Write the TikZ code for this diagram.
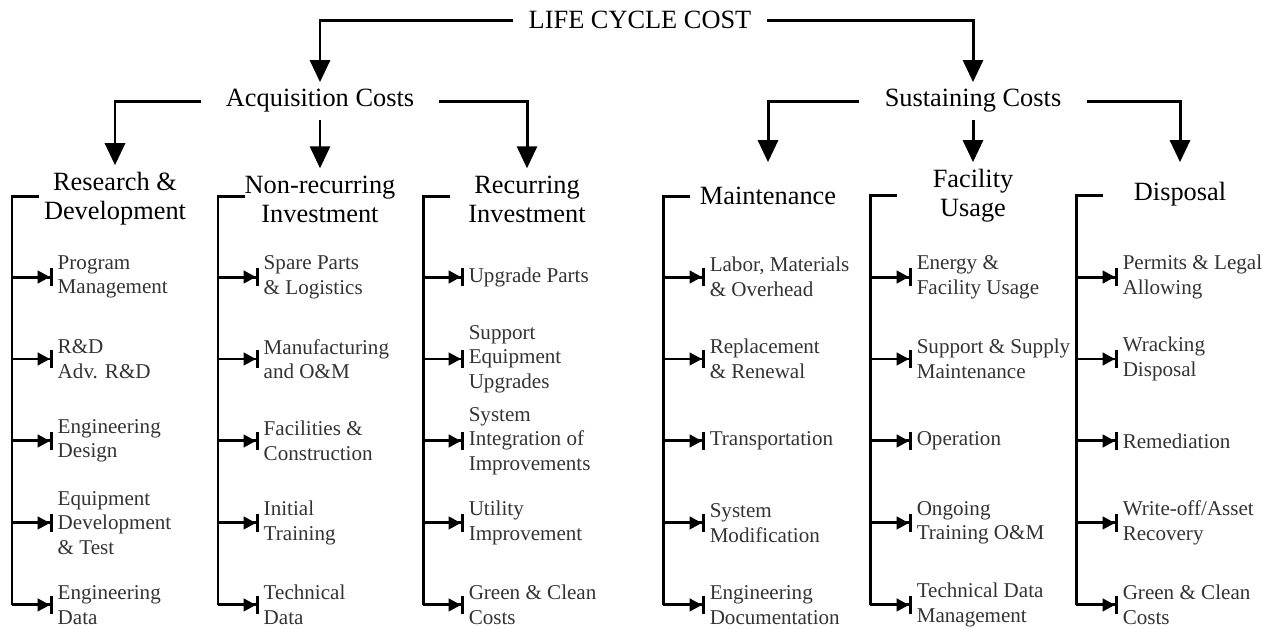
\documentclass[tikz,border=0pt]{standalone}
\usepackage{fontspec}
\setmainfont{Liberation Serif}
\usetikzlibrary{positioning,arrows.meta}

\begin{document}
\begin{tikzpicture}[x=0.02cm,y=-0.02cm,node distance=1.64cm and 0mm,inner sep=0pt]
\tikzstyle{cat}=[align=center, font=\fontsize{15}{16.5}\selectfont, inner xsep=4mm, inner ysep=4pt]
\tikzstyle{leaf}=[align=left, font=\fontsize{12}{14}\selectfont, text=black!80, inner xsep=2.5pt, anchor=west]
\tikzstyle{under}=[below=1.64cm of #1.west, anchor=west]
\tikzstyle{connect}=[-{Triangle[length=4.4mm,width=4mm]}, line width=1.7pt]
\tikzstyle{tick}=[-{Triangle[length=2.5mm,width=2.5mm,sep=0pt]Bar[width=3.6mm]}, line width=1.7pt]
\tikzstyle{rail}=[line width=1.7pt]
\useasboundingbox (0,0) rectangle (1270,627);
% top levels
\node[cat,inner xsep=3mm] (lcc) at (640,20) {LIFE CYCLE COST};
\node[cat,inner xsep=5mm] (acq) at (320,101) {Acquisition Costs};
\node[cat,inner xsep=5mm] (sus) at (973,101) {Sustaining Costs};
\node[cat] (rd) at (115,199) {Research \&\\Development};
\node[cat] (nri) at (320,199) {Non-recurring\\Investment};
\node[cat] (ri) at (527,199) {Recurring\\Investment};
\node[cat] (mnt) at (768,196) {Maintenance};
\node[cat] (fac) at (973,196) {Facility\\Usage};
\node[cat] (dsp) at (1180,194) {Disposal};
\draw[connect] (lcc.west) -| (acq.north);
\draw[connect] (lcc.east) -| (sus.north);
\draw[connect] (acq.west) -| (rd.north);
\draw[connect] (acq.south) -- (nri.north);
\draw[connect] (acq.east) -| (ri.north);
\draw[connect] (sus.west) -| (mnt.north |- fac.north);
\draw[connect] (sus.south) -- (fac.north);
\draw[connect] (sus.east) -| (dsp.north |- fac.north);
% Research & Development
\node[leaf] (rd1) at (53,277) {Program\\Management};
\node[leaf,under=rd1] (rd2) {R\&D\\Adv. R\&D};
\node[leaf,under=rd2] (rd3) {Engineering\\Design};
\node[leaf,under=rd3] (rd4) {Equipment\\Development\\\& Test};
\node[leaf,under=rd4] (rd5) {Engineering\\Data};
% Non-recurring Investment
\node[leaf] (nri1) at (259,277) {Spare Parts\\\& Logistics};
\node[leaf,under=nri1] (nri2) {Manufacturing\\and O\&M};
\node[leaf,under=nri2] (nri3) {Facilities \&\\Construction};
\node[leaf,under=nri3] (nri4) {Initial\\Training};
\node[leaf,under=nri4] (nri5) {Technical\\Data};
% Recurring Investment
\node[leaf] (ri1) at (464,277) {Upgrade Parts};
\node[leaf,under=ri1] (ri2) {Support\\Equipment\\Upgrades};
\node[leaf,under=ri2] (ri3) {System\\Integration of\\Improvements};
\node[leaf,under=ri3] (ri4) {Utility\\Improvement};
\node[leaf,under=ri4] (ri5) {Green \& Clean\\Costs};
% Maintenance
\node[leaf] (mnt1) at (705,277) {Labor, Materials\\\& Overhead};
\node[leaf,under=mnt1] (mnt2) {Replacement\\\& Renewal};
\node[leaf,under=mnt2] (mnt3) {Transportation};
\node[leaf,under=mnt3] (mnt4) {System\\Modification};
\node[leaf,under=mnt4] (mnt5) {Engineering\\Documentation};
% Facility Usage
\node[leaf] (fac1) at (912,277) {Energy \&\\Facility Usage};
\node[leaf,under=fac1] (fac2) {Support \& Supply\\Maintenance};
\node[leaf,under=fac2] (fac3) {Operation};
\node[leaf,under=fac3] (fac4) {Ongoing\\Training O\&M};
\node[leaf,under=fac4] (fac5) {Technical Data\\Management};
% Disposal
\node[leaf] (dsp1) at (1118,277) {Permits \& Legal\\Allowing};
\node[leaf,under=dsp1] (dsp2) {Wracking\\Disposal};
\node[leaf,under=dsp2] (dsp3) {Remediation};
\node[leaf,under=dsp3] (dsp4) {Write-off/Asset\\Recovery};
\node[leaf,under=dsp4] (dsp5) {Green \& Clean\\Costs};
% brackets
\coordinate (rdc) at (12,196);
\coordinate (nric) at (218,196);
\coordinate (ric) at (423,196);
\coordinate (mntc) at (663,196);
\coordinate (facc) at (870,195);
\coordinate (dspc) at (1076,195);
\draw[rail] (rdc) ++(27,0) -- (rdc) -- (rdc |- rd5);
\draw[rail] (nric) ++(27,0) -- (nric) -- (nric |- nri5);
\draw[rail] (ric) ++(27,0) -- (ric) -- (ric |- ri5);
\draw[rail] (mntc) ++(27,0) -- (mntc) -- (mntc |- mnt5);
\draw[rail] (facc) ++(27,0) -- (facc) -- (facc |- fac5);
\draw[rail] (dspc) ++(27,0) -- (dspc) -- (dspc |- dsp5);
\draw[tick] (rdc |- rd1) -- (rd1.west);
\draw[tick] (rdc |- rd2) -- (rd2.west);
\draw[tick] (rdc |- rd3) -- (rd3.west);
\draw[tick] (rdc |- rd4) -- (rd4.west);
\draw[tick] (rdc |- rd5) -- (rd5.west);
\draw[tick] (nric |- nri1) -- (nri1.west);
\draw[tick] (nric |- nri2) -- (nri2.west);
\draw[tick] (nric |- nri3) -- (nri3.west);
\draw[tick] (nric |- nri4) -- (nri4.west);
\draw[tick] (nric |- nri5) -- (nri5.west);
\draw[tick] (ric |- ri1) -- (ri1.west);
\draw[tick] (ric |- ri2) -- (ri2.west);
\draw[tick] (ric |- ri3) -- (ri3.west);
\draw[tick] (ric |- ri4) -- (ri4.west);
\draw[tick] (ric |- ri5) -- (ri5.west);
\draw[tick] (mntc |- mnt1) -- (mnt1.west);
\draw[tick] (mntc |- mnt2) -- (mnt2.west);
\draw[tick] (mntc |- mnt3) -- (mnt3.west);
\draw[tick] (mntc |- mnt4) -- (mnt4.west);
\draw[tick] (mntc |- mnt5) -- (mnt5.west);
\draw[tick] (facc |- fac1) -- (fac1.west);
\draw[tick] (facc |- fac2) -- (fac2.west);
\draw[tick] (facc |- fac3) -- (fac3.west);
\draw[tick] (facc |- fac4) -- (fac4.west);
\draw[tick] (facc |- fac5) -- (fac5.west);
\draw[tick] (dspc |- dsp1) -- (dsp1.west);
\draw[tick] (dspc |- dsp2) -- (dsp2.west);
\draw[tick] (dspc |- dsp3) -- (dsp3.west);
\draw[tick] (dspc |- dsp4) -- (dsp4.west);
\draw[tick] (dspc |- dsp5) -- (dsp5.west);
\end{tikzpicture}
\end{document}
